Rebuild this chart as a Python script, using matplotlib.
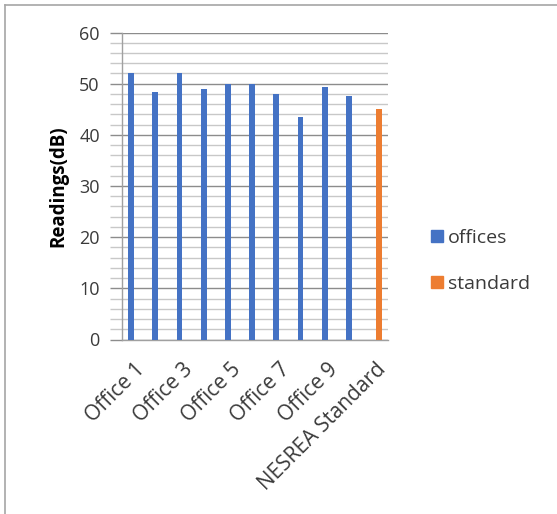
import matplotlib
matplotlib.use("Agg")
import matplotlib.pyplot as plt
from matplotlib.lines import Line2D
import numpy as np

plt.rcParams['font.family'] = ['Open Sans', 'DejaVu Sans']

categories = ["Office 1", "Office 2", "Office 3", "Office 4", "Office 5",
              "Office 6", "Office 7", "Office 8", "Office 9", "Office 10",
              "NESREA Standard"]
offices = [52.0, 48.4, 52.0, 48.9, 50.0, 50.0, 48.0, 43.4, 49.4, 47.6]
standard = [45.1]
tick_labels = ["Office 1", "Office 3", "Office 5", "Office 7", "Office 9",
               "NESREA Standard"]

blue = "#4472C4"
orange = "#ED7D31"
text_col = "#3a3a3a"

W, H = 557, 514
fig = plt.figure(figsize=(W / 100, H / 100), dpi=100)
ax = fig.add_axes([122 / W, 1 - 339.5 / H, (388 - 122) / W, (339.5 - 32.5) / H])

x = np.arange(len(categories))
bw = 0.24
ax.bar(x[:len(offices)] - bw / 2, offices, width=bw, color=blue, zorder=3)
ax.bar(x[len(offices):] + bw / 2, standard, width=bw, color=orange, zorder=3)

ax.set_xlim(-0.5, len(categories) - 0.5)
ax.set_ylim(0, 60)
ax.set_yticks(np.arange(0, 61, 10))
ax.set_yticks(np.arange(0, 61, 2), minor=True)
ax.grid(which="major", axis="y", color="#8c8c8c", linewidth=1.0, zorder=0)
ax.grid(which="minor", axis="y", color="#c8c8c8", linewidth=1.0, zorder=0)
ax.tick_params(axis="y", which="both", direction="out", length=9,
               width=1.0, labelcolor=text_col, labelsize=13, pad=7)
ax.tick_params(axis="y", which="major", color="#8c8c8c")
ax.tick_params(axis="y", which="minor", color="#c8c8c8")

label_pos = [categories.index(t) for t in tick_labels]
ax.set_xticks(label_pos)
ax.set_xticklabels(tick_labels, rotation=45, ha="right", va="top",
                   rotation_mode="anchor", fontsize=15, color=text_col)
ax.tick_params(axis="x", length=0, pad=14)
for lbl in ax.get_xticklabels():
    lbl.set_x(lbl.get_position()[0])

for side in ["top", "right"]:
    ax.spines[side].set_visible(False)
ax.spines["left"].set_color("#a0a0a0")
ax.spines["bottom"].set_color("#a0a0a0")
ax.spines["left"].set_linewidth(1.0)
ax.spines["bottom"].set_linewidth(1.0)

ax.set_ylabel("Readings(dB)", fontsize=13.5, fontweight="bold", color="#000000",
              labelpad=8)

handles = [Line2D([], [], marker="s", linestyle="none", markersize=8,
                  color=blue, label="offices"),
           Line2D([], [], marker="s", linestyle="none", markersize=8,
                  color=orange, label="standard")]
fig.legend(handles=handles, loc="center left",
           bbox_to_anchor=(410 / W, 1 - 261 / H), frameon=False,
           fontsize=14, labelspacing=1.42, handletextpad=0.05,
           handlelength=1.0, labelcolor=text_col)

# outer frame lines along the top and left edges
fig.add_artist(Line2D([4.5 / W, 4.5 / W], [0, 1 - 4.5 / H],
                      transform=fig.transFigure, color="#a6a6a6", lw=1.2))
fig.add_artist(Line2D([4.5 / W, 1], [1 - 4.5 / H, 1 - 4.5 / H],
                      transform=fig.transFigure, color="#a6a6a6", lw=1.2))

fig.savefig("out.png", dpi=100)
